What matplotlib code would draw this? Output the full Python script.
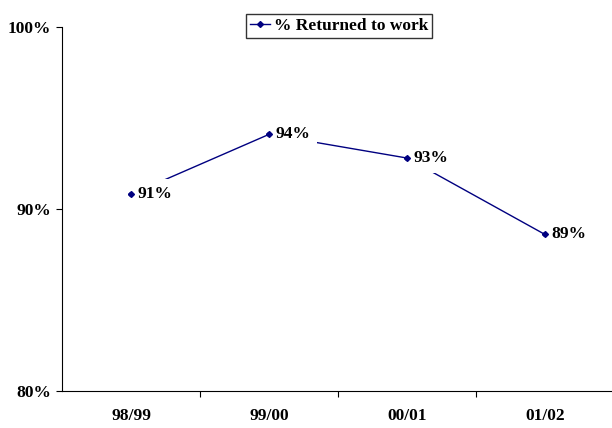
import matplotlib.pyplot as plt
from matplotlib.ticker import FixedLocator, NullFormatter, FixedFormatter

# Data
years = ['98/99', '99/00', '00/01', '01/02']
returned = [90.8, 94.1, 92.8, 88.6]
labels = ['91%', '94%', '93%', '89%']

navy = '#000080'
font = 'Liberation Serif'
fs = 12.5

fig = plt.figure(figsize=(6.12, 4.28), dpi=100)
ax = fig.add_axes([62 / 612, 37 / 428, 552 / 612, 364 / 428])

xs = list(range(len(years)))
ax.plot(xs, returned, color=navy, linewidth=1, marker='D', markersize=3,
        label='% Returned to work', zorder=2)
# markers again on top of the label boxes
ax.plot(xs, returned, color=navy, linestyle='none', marker='D', markersize=3,
        zorder=4)

# data labels with white boxes that break the line like Excel does
for x, v, lab in zip(xs, returned, labels):
    ax.text(x + 0.045, v, lab, fontsize=fs, fontweight='bold', family=font,
            ha='left', va='center', zorder=3,
            bbox=dict(facecolor='white', edgecolor='none', pad=5))

ax.set_xlim(-0.5, 3.5)
ax.set_ylim(80, 100)

ax.spines['top'].set_visible(False)
ax.spines['right'].set_visible(False)

ax.yaxis.set_major_locator(FixedLocator([80, 90, 100]))
ax.set_yticklabels(['80%', '90%', '100%'], fontsize=fs, fontweight='bold',
                   family=font)
ax.tick_params(axis='y', direction='out', length=4, pad=4)

# ticks between categories, labels at category centres
ax.xaxis.set_major_locator(FixedLocator([0.5, 1.5, 2.5]))
ax.xaxis.set_major_formatter(NullFormatter())
ax.xaxis.set_minor_locator(FixedLocator(xs))
ax.xaxis.set_minor_formatter(FixedFormatter(years))
ax.tick_params(axis='x', which='major', direction='out', length=4)
ax.tick_params(axis='x', which='minor', length=0, pad=12.5)
for t in ax.xaxis.get_minorticklabels():
    t.set_fontsize(fs)
    t.set_fontweight('bold')
    t.set_family(font)

leg = ax.legend(loc='center', bbox_to_anchor=(339 / 612, 1 - 26 / 428),
                bbox_transform=fig.transFigure, frameon=True, fancybox=False,
                prop=dict(family=font, weight='bold', size=fs),
                handlelength=1.2, handletextpad=0.2, borderpad=0.2,
                borderaxespad=0)
leg.get_frame().set_edgecolor('black')
leg.get_frame().set_linewidth(1)

fig.savefig('out.png', dpi=100)
